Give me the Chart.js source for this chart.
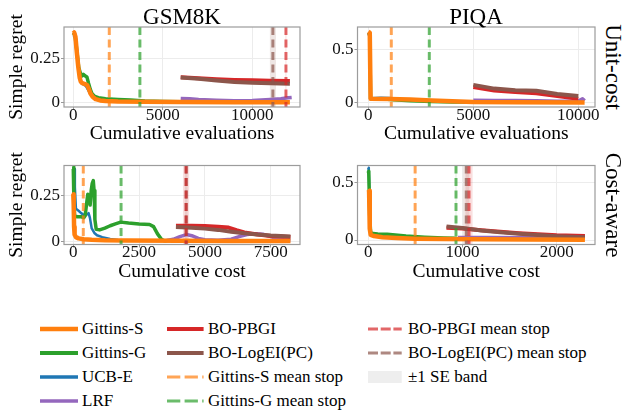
<!DOCTYPE html>
<html><head><meta charset="utf-8">
<script src="https://cdn.jsdelivr.net/npm/chart.js@4.4.1/dist/chart.umd.min.js"></script>
<style>
html,body{margin:0;padding:0;background:#fff;}
body{width:628px;height:410px;position:relative;overflow:hidden;font-family:'Liberation Serif','Times New Roman',serif;color:#000;}
canvas{position:absolute;}
.lbl{position:absolute;white-space:nowrap;line-height:1;font-size:23px;transform:translate(-50%,-50%);}
.rot{transform:translate(-50%,-50%) rotate(90deg);}
.leg{position:absolute;height:20px;line-height:20px;font-size:17px;white-space:nowrap;}
svg{position:absolute;overflow:visible;}
</style></head><body>
<canvas id="c1" width="310" height="146" style="left:0;top:0"></canvas>
<canvas id="c2" width="290" height="146" style="left:310px;top:0"></canvas>
<canvas id="c3" width="310" height="144" style="left:0;top:140px"></canvas>
<canvas id="c4" width="290" height="144" style="left:310px;top:140px"></canvas>
<div class="lbl" style="left:182px;top:16px">GSM8K</div>
<div class="lbl" style="left:476px;top:16px">PIQA</div>
<div class="lbl rot" style="left:613px;top:67px">Unit-cost</div>
<div class="lbl rot" style="left:613px;top:205px">Cost-aware</div>
<div id="legend"></div>
<script>
// ---------- data ----------
const datasetNames = ['GSM8K', 'PIQA'];
const methodNames = ['Gittins-S', 'Gittins-G', 'UCB-E', 'LRF', 'BO-PBGI', 'BO-LogEI(PC)'];
const stopNames = ['Gittins-S mean stop', 'Gittins-G mean stop', 'BO-PBGI mean stop', 'BO-LogEI(PC) mean stop'];

// tick values / labels
const gsmUnitXTicks = [0, 5000, 10000];
const gsmUnitXLabels = ['0', '5000', '10000'];
const piqaUnitXTicks = [0, 5000, 10000];
const piqaUnitXLabels = ['0', '5000', '10000'];
const gsmCostXTicks = [0, 2500, 5000, 7500];
const gsmCostXLabels = ['0', '2500', '5000', '7500'];
const piqaCostXTicks = [0, 1000, 2000];
const piqaCostXLabels = ['0', '1000', '2000'];
const gsmYTicks = [0, 0.25];
const gsmYLabels = ['0', '0.25'];
const piqaYTicks = [0, 0.5];
const piqaYLabels = ['0', '0.5'];

// GSM8K, unit-cost  [cumulative evaluations, simple regret]
const gsmUnitGittinsS = [[0,0.39],[50,0.395],[120,0.37],[200,0.28],[280,0.2],[360,0.14],[420,0.118],[500,0.11],[650,0.105],[780,0.098],[880,0.075],[960,0.052],[1080,0.034],[1250,0.02],[1500,0.013],[1800,0.01],[2500,0.007],[4000,0.005],[6000,0.004],[9000,0.003],[12100,0.003]];
const gsmUnitGittinsG = [[0,0.38],[60,0.39],[120,0.36],[200,0.29],[300,0.2],[400,0.165],[480,0.15],[560,0.16],[650,0.152],[760,0.145],[850,0.11],[950,0.075],[1050,0.05],[1200,0.035],[1400,0.028],[1800,0.022],[2500,0.018],[3200,0.015],[4000,0.01],[5000,0.007],[6000,0.005]];
const gsmUnitUcbE = [[0,0.38],[100,0.37],[250,0.22],[450,0.11],[700,0.095],[950,0.05],[1300,0.02],[2000,0.008],[3000,0.005]];
const gsmUnitLrf = [[6000,0.024],[6500,0.022],[7000,0.018],[8000,0.014],[9000,0.011],[10000,0.013],[11000,0.018],[11600,0.022],[12000,0.028],[12200,0.03]];
const gsmUnitBoPbgi = [[6000,0.143],[7000,0.138],[8000,0.132],[9000,0.128],[10000,0.126],[11000,0.124],[12100,0.122]];
const gsmUnitBoLogei = [[6000,0.142],[7000,0.135],[8000,0.125],[9000,0.117],[10000,0.113],[11000,0.11],[12100,0.107]];
const gsmUnitStopMean = [2010, 3720, 11880, 11150];
const gsmUnitStopSE = [20, 30, 40, 180];

// PIQA, unit-cost
const piqaUnitGittinsS = [[0,0.67],[70,0.66],[110,0.04],[1000,0.038],[2000,0.032],[3000,0.022],[4000,0.016],[5000,0.01],[7000,0.007],[10300,0.005]];
const piqaUnitGittinsG = [[0,0.66],[70,0.65],[110,0.04],[600,0.04],[1200,0.03],[2000,0.02],[3000,0.013],[4000,0.01],[5000,0.008]];
const piqaUnitUcbE = [[0,0.66],[80,0.6],[120,0.045],[600,0.05],[1000,0.046],[1500,0.036]];
const piqaUnitLrf = [[5000,0.025],[6000,0.022],[7000,0.024],[8000,0.02],[9000,0.016],[10000,0.018],[10200,0.04],[10300,0.02]];
const piqaUnitBoPbgi = [[5000,0.15],[6000,0.118],[7000,0.102],[8000,0.092],[9000,0.065],[10000,0.04]];
const piqaUnitBoLogei = [[5000,0.17],[6000,0.135],[7000,0.12],[8000,0.115],[9000,0.085],[10000,0.065]];
const piqaUnitStopMean = [1095, 2905];
const piqaUnitStopSE = [15, 20];

// GSM8K, cost-aware  [cumulative cost, simple regret]
const gsmCostGittinsS = [[0,0.26],[15,0.2],[30,0.08],[50,0.035],[100,0.022],[200,0.015],[400,0.01],[700,0.007],[1200,0.004],[2000,0.003],[4000,0.002],[6000,0.001],[8250,0.001]];
const gsmCostGittinsG = [[0,0.4],[15,0.41],[25,0.25],[50,0.14],[150,0.135],[300,0.135],[400,0.13],[450,0.14],[500,0.2],[550,0.26],[600,0.25],[640,0.2],[680,0.28],[720,0.32],[760,0.335],[790,0.28],[820,0.12],[870,0.065],[1000,0.062],[1200,0.072],[1400,0.085],[1600,0.095],[1800,0.105],[2100,0.1],[2500,0.095],[2900,0.092],[3050,0.08],[3200,0.04],[3350,0.01],[3450,0.002],[3550,0.0]];
const gsmCostUcbE = [[0,0.41],[30,0.4],[60,0.3],[100,0.18],[200,0.168],[300,0.155],[400,0.145],[500,0.145],[580,0.155],[630,0.13],[700,0.07],[800,0.045],[900,0.032],[1100,0.022],[1400,0.012],[1700,0.006],[2000,0.004]];
const gsmCostLrf = [[3550,0.003],[3800,0.01],[4050,0.025],[4300,0.036],[4500,0.03],[4750,0.015],[5000,0.008],[5500,0.005],[6000,0.01],[6300,0.025],[6600,0.036],[6900,0.04],[7200,0.038],[7500,0.025],[7800,0.01],[8250,0.003]];
const gsmCostBoPbgi = [[3900,0.085],[4500,0.085],[5000,0.083],[5500,0.08],[5900,0.075],[6200,0.06],[6500,0.048],[7000,0.036],[7500,0.028],[8250,0.022]];
const gsmCostBoLogei = [[3900,0.078],[4500,0.074],[5000,0.069],[5500,0.062],[6000,0.052],[6500,0.043],[7000,0.036],[7500,0.031],[8250,0.026]];
const gsmCostStopMean = [380, 1815, 4285, 4290];
const gsmCostStopSE = [15, 20, 125, 60];

// PIQA, cost-aware
const piqaCostGittinsS = [[0,0.44],[8,0.43],[15,0.1],[25,0.045],[60,0.035],[150,0.025],[300,0.018],[500,0.012],[800,0.008],[1200,0.006],[1700,0.004],[2300,0.003]];
const piqaCostGittinsG = [[0,0.6],[5,0.58],[15,0.2],[25,0.06],[100,0.052],[200,0.05],[400,0.035],[600,0.025],[800,0.018],[940,0.015]];
const piqaCostUcbE = [[0,0.63],[5,0.6],[15,0.3],[25,0.07],[60,0.05],[150,0.04],[300,0.03],[500,0.02]];
const piqaCostLrf = [[950,0.022],[1300,0.022],[1700,0.02],[2000,0.018],[2300,0.02]];
const piqaCostBoPbgi = [[830,0.108],[1000,0.1],[1200,0.085],[1400,0.072],[1600,0.06],[1800,0.05],[2000,0.042],[2300,0.036]];
const piqaCostBoLogei = [[830,0.118],[1000,0.105],[1200,0.083],[1400,0.068],[1600,0.055],[1800,0.043],[2000,0.034],[2300,0.024]];
const piqaCostStopMean = [497, 931, 1069, 1040];
const piqaCostStopSE = [5, 8, 40, 35];

// ---------- styling ----------
const FONT = "'Liberation Serif','Times New Roman',serif";
const COL = {orange:'#ff7f0e', green:'#2ca02c', blue:'#1f77b4', purple:'#9467bd', red:'#d62728', brown:'#8c564b'};
const methodStyle = [
  {color:COL.orange, w:4.5, order:2},
  {color:COL.green, w:3.5, order:5},
  {color:COL.blue, w:2.5, order:6},
  {color:COL.purple, w:3.5, order:7},
  {color:COL.red, w:4, order:4},
  {color:COL.brown, w:4, order:3}
];
const stopColors = [COL.orange, COL.green, COL.red, COL.brown];
function rgba(hex, a){const n=parseInt(hex.slice(1),16);return `rgba(${n>>16},${(n>>8)&255},${n&255},${a})`;}

const borderPlugin = {
  id:'panelBorder',
  afterDraw(chart){
    const {ctx, chartArea:a} = chart;
    ctx.save(); ctx.strokeStyle='#9c9c9c'; ctx.lineWidth=1.2;
    ctx.strokeRect(a.left, a.top, a.right-a.left, a.bottom-a.top);
    ctx.restore();
  }
};

function makePanel(id, p){
  const ds = [];
  p.stopMean.forEach((v,i)=>{
    const se = p.stopSE[i];
    ds.push({data:[{x:v-se,y:p.yMax},{x:v+se,y:p.yMax}], borderWidth:0, pointRadius:0, fill:'start', backgroundColor:rgba(stopColors[i],0.15), order:20});
  });
  p.series.forEach((s,i)=>{
    const st = methodStyle[i];
    ds.push({data:s.map(q=>({x:q[0],y:q[1]})), borderColor:st.color, borderWidth:st.w, pointRadius:0, fill:false, tension:0, borderJoinStyle:'round', order:st.order});
  });
  p.stopMean.forEach((v,i)=>{
    ds.push({data:[{x:v,y:p.yMax},{x:v,y:p.yMin}], borderColor:rgba(stopColors[i],0.7), borderWidth:3, borderDash:[8,4.5], pointRadius:0, fill:false, order:1});
  });
  const tickFont = {family:FONT, size:17, lineHeight:1};
  new Chart(document.getElementById(id), {
    type:'line',
    data:{datasets:ds},
    options:{
      responsive:false, animation:false, devicePixelRatio:1,
      layout:{padding:{top:p.padTop, right:p.padRight, bottom:0, left:0}},
      plugins:{legend:{display:false}, tooltip:{enabled:false}},
      scales:{
        x:{type:'linear', min:p.xMin, max:p.xMax,
          afterBuildTicks:sc=>{sc.ticks=p.xTicks.map(v=>({value:v}));},
          afterFit:sc=>{sc.height=p.xH;},
          ticks:{callback:v=>p.xLabels[p.xTicks.indexOf(v)], font:tickFont, color:'#111', padding:-3, maxRotation:0, autoSkip:false},
          grid:{color:'#ececec', lineWidth:1, drawTicks:true, tickLength:3, tickColor:'#999'},
          border:{display:false},
          title:{display:true, text:p.xTitle, font:{family:FONT, size:19.5, lineHeight:1.2}, color:'#000', padding:0}
        },
        y:{type:'linear', min:p.yMin, max:p.yMax,
          afterBuildTicks:sc=>{sc.ticks=p.yTicks.map(v=>({value:v}));},
          afterFit:sc=>{sc.width=p.yW;},
          ticks:{callback:v=>p.yLabels[p.yTicks.indexOf(v)], font:tickFont, color:'#111', padding:1},
          grid:{color:'#ececec', lineWidth:1, drawTicks:true, tickLength:3, tickColor:'#999'},
          border:{display:false},
          title:{display:!!p.yTitle, text:p.yTitle||'', font:{family:FONT, size:19.5, lineHeight:1.74}, color:'#000', padding:0}
        }
      }
    },
    plugins:[borderPlugin]
  });
}

makePanel('c1', {xMin:-520, xMax:12665, yMin:-0.024, yMax:0.426, xTicks:gsmUnitXTicks, xLabels:gsmUnitXLabels, yTicks:gsmYTicks, yLabels:gsmYLabels,
  xTitle:'Cumulative evaluations', yTitle:'Simple regret', padTop:27, padRight:10, yW:64, xH:39,
  series:[gsmUnitGittinsS, gsmUnitGittinsG, gsmUnitUcbE, gsmUnitLrf, gsmUnitBoPbgi, gsmUnitBoLogei], stopMean:gsmUnitStopMean, stopSE:gsmUnitStopSE});
makePanel('c2', {xMin:-514, xMax:10795, yMin:-0.038, yMax:0.714, xTicks:piqaUnitXTicks, xLabels:piqaUnitXLabels, yTicks:piqaYTicks, yLabels:piqaYLabels,
  xTitle:'Cumulative evaluations', yTitle:null, padTop:27, padRight:5, yW:47.5, xH:39,
  series:[piqaUnitGittinsS, piqaUnitGittinsG, piqaUnitUcbE, piqaUnitLrf, piqaUnitBoPbgi, piqaUnitBoLogei], stopMean:piqaUnitStopMean, stopSE:piqaUnitStopSE});
makePanel('c3', {xMin:-353, xMax:8613, yMin:-0.019, yMax:0.419, xTicks:gsmCostXTicks, xLabels:gsmCostXLabels, yTicks:gsmYTicks, yLabels:gsmYLabels,
  xTitle:'Cumulative cost', yTitle:'Simple regret', padTop:25.5, padRight:10, yW:64, xH:39.5,
  series:[gsmCostGittinsS, gsmCostGittinsG, gsmCostUcbE, gsmCostLrf, gsmCostBoPbgi, gsmCostBoLogei], stopMean:gsmCostStopMean, stopSE:gsmCostStopSE});
makePanel('c4', {xMin:-115, xMax:2407, yMin:-0.039, yMax:0.65, xTicks:piqaCostXTicks, xLabels:piqaCostXLabels, yTicks:piqaYTicks, yLabels:piqaYLabels,
  xTitle:'Cumulative cost', yTitle:null, padTop:25.5, padRight:5, yW:47.5, xH:39.5,
  series:[piqaCostGittinsS, piqaCostGittinsG, piqaCostUcbE, piqaCostLrf, piqaCostBoPbgi, piqaCostBoLogei], stopMean:piqaCostStopMean, stopSE:piqaCostStopSE});

// ---------- legend ----------
const legendRows = [328.5, 352.5, 376.5, 400.5];
const legendCols = [
  {x1:40, x2:78, tx:82},
  {x1:166.7, x2:203.3, tx:208},
  {x1:368.3, x2:402, tx:408}
];
const legendItems = [
  {col:0,row:0,label:methodNames[0],kind:'solid',color:COL.orange,w:4.5},
  {col:0,row:1,label:methodNames[1],kind:'solid',color:COL.green,w:4},
  {col:0,row:2,label:methodNames[2],kind:'solid',color:COL.blue,w:3.5},
  {col:0,row:3,label:methodNames[3],kind:'solid',color:COL.purple,w:3.5},
  {col:1,row:0,label:methodNames[4],kind:'solid',color:COL.red,w:4},
  {col:1,row:1,label:methodNames[5],kind:'solid',color:COL.brown,w:4},
  {col:1,row:2,label:stopNames[0],kind:'dash',color:rgba(COL.orange,0.7),w:3,dash:'13.3 4.3'},
  {col:1,row:3,label:stopNames[1],kind:'dash',color:rgba(COL.green,0.7),w:3,dash:'13.3 4.3'},
  {col:2,row:0,label:stopNames[2],kind:'dash',color:rgba(COL.red,0.7),w:3,dash:'10 2.7'},
  {col:2,row:1,label:stopNames[3],kind:'dash',color:rgba(COL.brown,0.7),w:3,dash:'10 2.7'},
  {col:2,row:2,label:'±1 SE band',kind:'band',color:'#eeeeee'}
];
const leg = document.getElementById('legend');
legendItems.forEach(it=>{
  const c = legendCols[it.col], y = legendRows[it.row];
  const w = c.x2 - c.x1;
  let inner;
  if (it.kind==='band') inner = `<rect x="0" y="0" width="${w}" height="12" fill="${it.color}"/>`;
  else inner = `<line x1="0" y1="6" x2="${w}" y2="6" stroke="${it.color}" stroke-width="${it.w}" ${it.dash?`stroke-dasharray="${it.dash}"`:''}/>`;
  leg.insertAdjacentHTML('beforeend', `<svg width="${w}" height="12" style="left:${c.x1}px;top:${y-6}px">${inner}</svg>`);
  const d = document.createElement('div');
  d.className='leg'; d.style.left=c.tx+'px'; d.style.top=(y-10)+'px'; d.textContent=it.label;
  leg.appendChild(d);
});
</script>
</body></html>
